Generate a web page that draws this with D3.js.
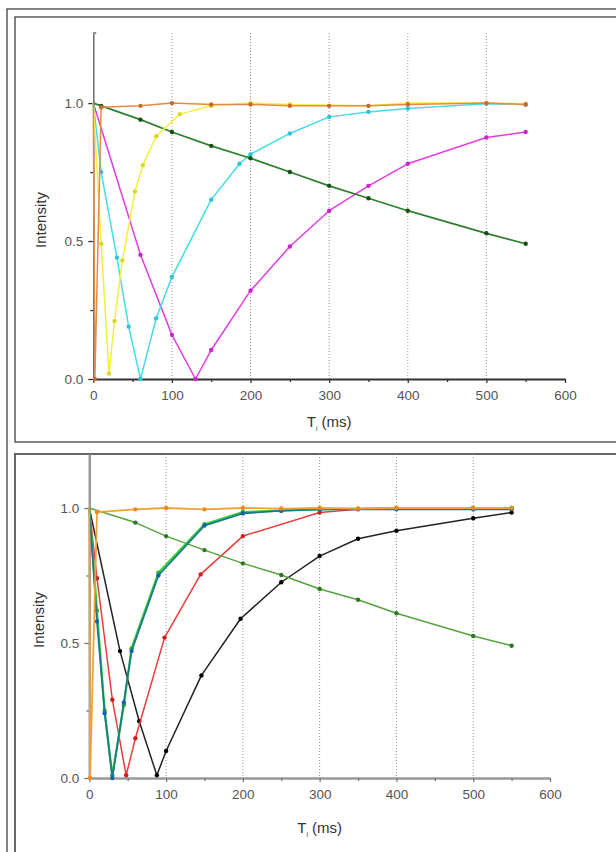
<!DOCTYPE html>
<meta charset="utf-8">
<script src="https://d3js.org/d3.v7.min.js"></script>
<style>
  body { margin: 0; background: #fff; }
  * { font-family: 'Liberation Sans', Arial, sans-serif; }
</style>
<svg width="616" height="852"></svg>
<script>
// ---- top panel data (TI in ms, normalised intensity) ----
var topOrangeT = [0, 2, 10, 60, 100, 150, 200, 250, 300, 350, 400, 500, 550]
var topOrangeI = [1.0, 0.0, 0.985, 0.99, 1.0, 0.995, 0.995, 0.99, 0.99, 0.99, 0.995, 1.0, 0.995]
var topYellowT = [0, 10, 20, 27, 37, 53, 63, 80, 110, 150, 200, 250, 350, 400, 500, 550]
var topYellowI = [1.0, 0.49, 0.02, 0.21, 0.43, 0.68, 0.775, 0.88, 0.96, 0.99, 1.0, 0.995, 0.99, 1.0, 1.0, 0.998]
var topCyanT = [0, 10, 30, 45, 60, 80, 100, 150, 186, 200, 250, 300, 350, 400, 500, 550]
var topCyanI = [1.0, 0.75, 0.44, 0.19, 0.0, 0.22, 0.37, 0.65, 0.78, 0.815, 0.89, 0.95, 0.968, 0.98, 0.998, 0.995]
var topMagentaT = [0, 60, 100, 130, 150, 200, 250, 300, 350, 400, 500, 550]
var topMagentaI = [1.0, 0.45, 0.16, 0.0, 0.105, 0.32, 0.48, 0.61, 0.70, 0.78, 0.875, 0.895]
var topGreenT = [0, 10, 60, 100, 150, 200, 250, 300, 350, 400, 500, 550]
var topGreenI = [1.0, 0.99, 0.94, 0.895, 0.845, 0.80, 0.75, 0.70, 0.655, 0.61, 0.528, 0.49]

// ---- bottom panel data ----
var botOrangeT = [0, 1, 10, 60, 100, 150, 200, 250, 300, 350, 400, 500, 550]
var botOrangeI = [1.0, 0.0, 0.985, 0.995, 1.0, 0.995, 1.0, 0.998, 1.0, 0.998, 1.0, 1.0, 1.0]
var botGreenT = [0, 60, 100, 150, 200, 250, 300, 350, 400, 500, 550]
var botGreenI = [1.0, 0.946, 0.896, 0.844, 0.795, 0.752, 0.70, 0.66, 0.61, 0.526, 0.49]
var botBlueT = [0, 10, 20, 30, 45, 55, 90, 150, 200, 250, 300, 400, 500, 550]
var botBlueI = [1.0, 0.58, 0.24, 0.0, 0.28, 0.47, 0.75, 0.935, 0.98, 0.99, 0.995, 0.995, 0.995, 0.995]
var botLimeT = [0, 10, 20, 30, 45, 55, 90, 150, 200, 250, 300, 400, 500, 550]
var botLimeI = [1.0, 0.62, 0.25, 0.01, 0.27, 0.48, 0.76, 0.94, 0.985, 0.99, 0.995, 1.0, 1.0, 1.0]
var botRedT = [0, 10, 30, 48, 60, 98, 145, 200, 300, 350, 400, 500, 550]
var botRedI = [1.0, 0.74, 0.29, 0.01, 0.147, 0.52, 0.754, 0.896, 0.983, 0.995, 1.0, 1.0, 1.0]
var botBlackT = [0, 40, 65, 88, 100, 146, 197, 250, 300, 350, 400, 500, 550]
var botBlackI = [1.0, 0.47, 0.21, 0.01, 0.10, 0.38, 0.59, 0.725, 0.822, 0.886, 0.916, 0.962, 0.983]

var xTicks = [0, 100, 200, 300, 400, 500, 600]
var xMinor = [50, 150, 250, 350, 450, 550]
var yTicks = [0, 0.5, 1.0]
var yMinor = [0.25, 0.75]
var gridTicks = [100, 200, 300, 400, 500]

function zip(t, v) {
  return t.map(function(d, i) { return {t: d, v: v[i]} })
}

var svg = d3.select("svg")

// frames
svg.append("rect").attr("x", 7).attr("y", 9).attr("width", 640).attr("height", 900)
  .attr("fill", "none").attr("stroke", "#333").attr("stroke-width", 1.2)
svg.append("rect").attr("x", 15).attr("y", 17).attr("width", 620).attr("height", 425)
  .attr("fill", "none").attr("stroke", "#333").attr("stroke-width", 1.2)
svg.append("rect").attr("x", 15).attr("y", 454).attr("width", 620).attr("height", 450)
  .attr("fill", "none").attr("stroke", "#666").attr("stroke-width", 2)

function drawPanel(p) {
  var x = d3.scaleLinear().domain([0, 600]).range([p.left, p.right])
  var y = d3.scaleLinear().domain([0, p.ymax]).range([p.bottom, p.top])
  var g = svg.append("g")

  // dotted grid
  g.selectAll(".grid").data(gridTicks).enter().append("line")
    .attr("x1", function(d) { return x(d) }).attr("x2", function(d) { return x(d) })
    .attr("y1", p.top).attr("y2", p.bottom)
    .attr("stroke", "#999").attr("stroke-width", 1).attr("stroke-dasharray", "1,2")

  // axes
  var xa = g.append("g").attr("transform", "translate(0," + p.bottom + ")")
    .call(d3.axisBottom(x).tickValues(xTicks).tickSize(4).tickSizeOuter(0).tickPadding(7))
  var xm = g.append("g").attr("transform", "translate(0," + p.bottom + ")")
    .call(d3.axisBottom(x).tickValues(xMinor).tickSize(3).tickFormat(""))
  var ya = g.append("g").attr("transform", "translate(" + p.left + ",0)")
    .call(d3.axisLeft(y).tickValues(yTicks).tickSize(5).tickSizeOuter(0).tickPadding(5).tickFormat(d3.format(".1f")))
  var ym = g.append("g").attr("transform", "translate(" + p.left + ",0)")
    .call(d3.axisLeft(y).tickValues(yMinor).tickSize(3).tickFormat(""))

  xa.select(".domain").attr("stroke", p.xAxisColor).attr("stroke-width", p.xAxisWidth)
  ya.select(".domain").attr("stroke", p.yAxisColor).attr("stroke-width", p.yAxisWidth)
  xm.select(".domain").remove()
  ym.select(".domain").remove()
  g.selectAll(".tick line").attr("stroke", p.tickColor).attr("stroke-width", 1.3)
  g.selectAll(".tick text").attr("fill", "#555").style("font-size", "13.5px")
  if (p.topHook) {
    g.append("line").attr("x1", p.left).attr("x2", p.left + 3)
      .attr("y1", y(p.ymax)).attr("y2", y(p.ymax))
      .attr("stroke", p.yAxisColor).attr("stroke-width", 1.3)
  }

  // axis titles
  g.append("text")
    .attr("transform", "translate(" + p.yTitleX + "," + p.yTitleY + ") rotate(-90)")
    .attr("text-anchor", "middle").attr("fill", "#333")
    .style("font-size", "15px").text("Intensity")
  var t = g.append("text").attr("x", (p.left + p.right) / 2).attr("y", p.xTitleY)
    .attr("text-anchor", "middle").attr("fill", "#333").style("font-size", "15px")
  t.append("tspan").text("T")
  t.append("tspan").attr("dy", 4).style("font-size", "7px").text("i")
  t.append("tspan").attr("dy", -4).text(" (ms)")

  var line = d3.line().x(function(d) { return x(d.t) }).y(function(d) { return y(d.v) })

  p.series.forEach(function(s) {
    var data = zip(s.t, s.v)
    g.append("path").datum(data).attr("d", line)
      .attr("fill", "none").attr("stroke", s.color).attr("stroke-width", s.width || 1.5)
      .attr("stroke-linejoin", "round")
    g.selectAll(null).data(data.slice(1)).enter().append("circle")
      .attr("cx", function(d) { return x(d.t) }).attr("cy", function(d) { return y(d.v) })
      .attr("r", 2.2).attr("fill", s.marker)
  })
}

drawPanel({
  left: 93.3, right: 565, top: 33, bottom: 379, ymax: 1.254,
  xAxisColor: "#333", xAxisWidth: 2, yAxisColor: "#555", yAxisWidth: 1.3, tickColor: "#333",
  topHook: true,
  yTitleX: 46, yTitleY: 220, xTitleY: 427,
  series: [
    {t: topMagentaT, v: topMagentaI, color: "#e23de2", marker: "#d020d0"},
    {t: topCyanT, v: topCyanI, color: "#45dce6", marker: "#2cc4d8"},
    {t: topGreenT, v: topGreenI, color: "#2f7f2f", marker: "#145214", width: 1.7},
    {t: topYellowT, v: topYellowI, color: "#f2f03a", marker: "#dcd62a"},
    {t: topOrangeT, v: topOrangeI, color: "#e58a45", marker: "#c86a2a"}
  ]
})

drawPanel({
  left: 89.3, right: 550, top: 454, bottom: 778, ymax: 1.2,
  xAxisColor: "#999", xAxisWidth: 2.5, yAxisColor: "#999", yAxisWidth: 2.5, tickColor: "#777",
  topHook: false,
  yTitleX: 44, yTitleY: 620, xTitleY: 833,
  series: [
    {t: botBlackT, v: botBlackI, color: "#222", marker: "#000"},
    {t: botRedT, v: botRedI, color: "#ee3b3b", marker: "#d41c1c"},
    {t: botGreenT, v: botGreenI, color: "#55a33f", marker: "#2e7a22"},
    {t: botLimeT, v: botLimeI, color: "#36d23a", marker: "#20c020", width: 2.2},
    {t: botBlueT, v: botBlueI, color: "#1a7a8a", marker: "#1b5fb0", width: 1.8},
    {t: botOrangeT, v: botOrangeI, color: "#f0a23a", marker: "#e88a20", width: 1.8}
  ]
})
</script>
